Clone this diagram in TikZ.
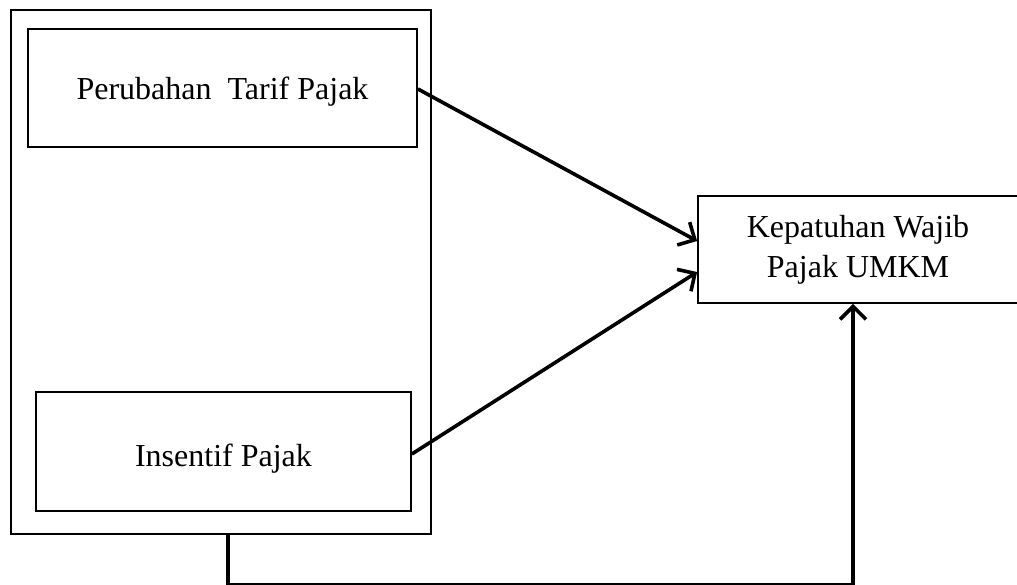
\documentclass[tikz,border=0pt]{standalone}
\usepackage{fontspec}
\setmainfont{Liberation Serif}
\usetikzlibrary{arrows.meta}
\tikzset{
  box/.style={draw, line width=1.8pt, rectangle, inner sep=0pt, align=center,
    font=\fontsize{32}{40}\selectfont},
  arr/.style={line width=3.6pt, -{Straight Barb[length=13pt,width=26pt,line width=3.6pt]}},
  link/.style={line width=3.6pt}
}
\begin{document}
\begin{tikzpicture}[x=1pt,y=-1pt]
\useasboundingbox (0,0) rectangle (1017,585);
\node[box, minimum width=420pt, minimum height=524pt] (outer) at (221,272) {};
\node[box, minimum width=389pt, minimum height=118pt] (b1) at (222.5,88) {\raisebox{-12pt}[0pt][0pt]{Perubahan\ \ Tarif Pajak}};
\node[box, minimum width=375pt, minimum height=119pt] (b2) at (223.5,451.5) {\raisebox{-14.5pt}[0pt][0pt]{Insentif Pajak}};
\node[box, minimum width=320pt, minimum height=107pt] (b3) at (858,249.5) {Kepatuhan Wajib\\Pajak UMKM};
\draw[arr] ([yshift=-1pt]b1.east) -- ([yshift=8.5pt]b3.west);
\draw[arr] ([yshift=-2.5pt]b2.east) -- ([yshift=-22.5pt]b3.west);
\coordinate (c1) at ([xshift=7pt]outer.south);
\coordinate (c2) at ([xshift=-5pt]b3.south);
\draw[link] (c1) -- (c1 |- 0,584.5) -- (c2 |- 0,584.5);
\draw[arr] (c2 |- 0,584.5) -- (c2);
\end{tikzpicture}
\end{document}
